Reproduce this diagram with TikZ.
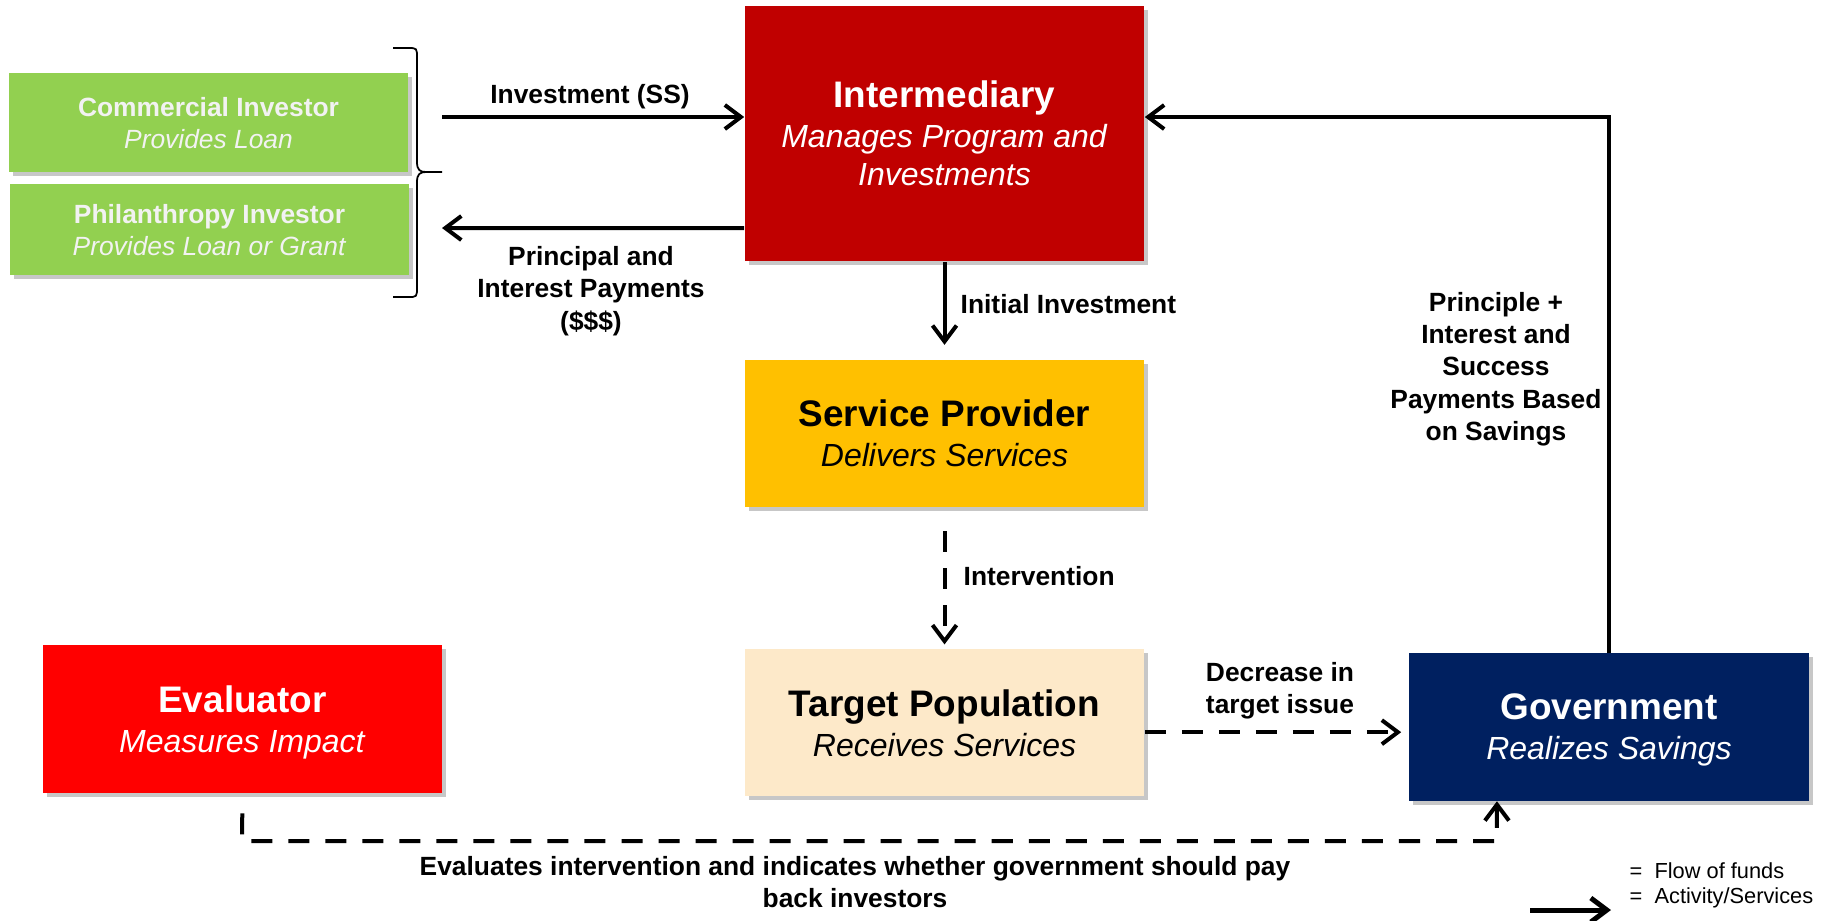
\documentclass[tikz,border=0pt]{standalone}
\usepackage{fontspec}
\setmainfont{Liberation Sans}
\definecolor{investgreen}{RGB}{146,208,80}
\definecolor{intermred}{RGB}{192,0,0}
\definecolor{provideramber}{RGB}{255,192,0}
\definecolor{targetpeach}{RGB}{253,233,201}
\definecolor{evalred}{RGB}{255,0,0}
\definecolor{govnavy}{RGB}{0,32,96}
\definecolor{offwhite}{RGB}{242,242,242}
\usetikzlibrary{arrows.meta, positioning, shadows}
\tikzset{
>={Straight Barb[length=1.6mm, width=2.4mm]}, % open chevron heads
party/.style={minimum width=3.99cm, align=center, inner sep=0pt, text depth=0pt,
  drop shadow={shadow xshift=0.04cm, shadow yshift=-0.04cm, fill=black, opacity=0.22}}, % every box
bigparty/.style={party, minimum height=1.47cm, font=\fontsize{9.1}{10.8}\selectfont}, % main boxes
investor/.style={party, fill=investgreen, text=offwhite, font=\fontsize{7.5}{9.1}\selectfont}, % green boxes
funds/.style={->, line width=0.04cm}, % flow of funds
activity/.style={funds, dash pattern=on 0.21cm off 0.16cm}, % activity/services
flowlabel/.style={inner sep=0pt, align=center, font=\fontsize{7.5}{9.2}\selectfont\bfseries}, % arrow labels
}

\begin{document}
\begin{tikzpicture}[x=0.01cm, y=-0.01cm]
  \useasboundingbox (0,0) rectangle (1824,920);

  \node[investor, minimum height=0.99cm] (com) at (208.5,122.5)
    {\textbf{Commercial Investor}\\\textit{Provides Loan}};
  \node[investor, minimum height=0.91cm] (phil) at (209.5,229.5)
    {\textbf{Philanthropy Investor}\\\textit{Provides Loan or Grant}};
  \node[bigparty, minimum height=2.55cm, fill=intermred, text=white] (inter) at (944.5,133.5)
    {{\fontsize{10.5}{11.7}\selectfont\bfseries Intermediary}\\[0.6pt]\textit{Manages Program and}\\\textit{Investments}};
  \node[bigparty, fill=provideramber, below=0.97cm of inter] (sp)
    {{\fontsize{10.5}{11.7}\selectfont\bfseries Service Provider}\\[0.6pt]\textit{Delivers Services}};
  \node[bigparty, fill=targetpeach, below=1.41cm of sp] (tp)
    {{\fontsize{10.5}{11.7}\selectfont\bfseries Target Population}\\[0.6pt]\textit{Receives Services}};
  \node[bigparty, fill=evalred, text=white] (ev) at (242.5,719)
    {{\fontsize{10.5}{11.7}\selectfont\bfseries Evaluator}\\[0.6pt]\textit{Measures Impact}};
  \node[bigparty, minimum width=4cm, fill=govnavy, text=white] (gov) at (1609,727)
    {{\fontsize{10.5}{11.7}\selectfont\bfseries Government}\\[0.6pt]\textit{Realizes Savings}};

  % brace round the investors
  \draw[line width=0.5pt] (393,48) -- (408,48) .. controls (417,48) .. (417,58) -- (417,162)
    .. controls (417,170) and (420,172) .. (426,172) -- (442,172);
  \draw[line width=0.5pt] (426,172) .. controls (420,172) and (417,174) .. (417,182) -- (417,287)
    .. controls (417,297) .. (408,297) -- (393,297);
  \coordinate (fundsin) at (442,117);
  \coordinate (fundsout) at (442,228);
  \coordinate (evalturn) at (242,841);

  \draw[funds] (fundsin) -- (fundsin -| inter.west);
  \draw[funds] ([yshift=-0.945cm]inter.west) -- (fundsout);
  \draw[funds, shorten >=0.14cm] (inter.south) -- (sp.north);
  \draw[activity, shorten <=0.24cm, shorten >=0.04cm] (sp.south) -- (tp.north);
  \draw[activity, shorten >=0.07cm] ([yshift=-0.095cm]tp.east) -- ([yshift=-0.095cm]tp.east -| gov.west);
  \draw[funds] (gov.north) |- ([yshift=0.165cm]inter.east);
  \draw[activity, shorten <=0.2cm] (ev.south) -- (evalturn) -| ([xshift=-1.12cm]gov.south);

  \node[flowlabel] (invlabel) at (590,97) {Investment (SS)};
  \node[flowlabel] (paylabel) at (591,291) {Principal and\\Interest Payments\\(\$\$\$)};
  \node[flowlabel, anchor=west] (initlabel) at (960,304) {Initial Investment};
  \node[flowlabel, anchor=west] (intvlabel) at (963,576) {Intervention};
  \node[flowlabel] (decrlabel) at (1280,691) {Decrease in\\target issue};
  \node[flowlabel] (savelabel) at (1496,369) {Principle +\\Interest and\\Success\\Payments Based\\on Savings};
  \node[flowlabel, font=\fontsize{7.5}{8.9}\selectfont\bfseries] (evallabel) at (855,882)
    {Evaluates intervention and indicates whether government should pay\\back investors};

  % legend
  \node[inner sep=0pt, anchor=west, font=\fontsize{6.2}{7.6}\selectfont] (fundskey) at (1629,871) {=\ \ Flow of funds};
  \node[inner sep=0pt, anchor=west, font=\fontsize{6.2}{7.6}\selectfont] (actkey) at (1629,898) {=\ \ Activity/Services};
  \coordinate (keytail) at (1530,910);
  \coordinate (keyhead) at (1611,910);
  \draw[funds, line width=0.05cm] (keytail) -- (keyhead);
\end{tikzpicture}
\end{document}
